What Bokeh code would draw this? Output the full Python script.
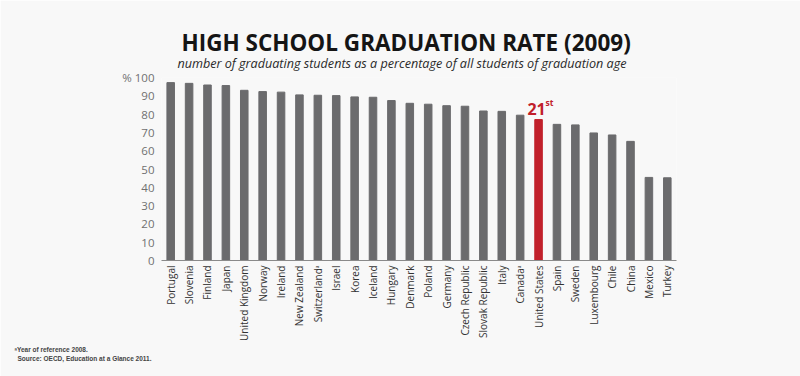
import math
from bokeh.plotting import figure
from bokeh.models import ColumnDataSource, FixedTicker, FactorRange, Title
from bokeh.core.properties import value
from bokeh.embed import file_html
from bokeh.resources import INLINE

countries = ["Portugal", "Slovenia", "Finland", "Japan", "United Kingdom", "Norway",
             "Ireland", "New Zealand", "Switzerland\u1d43", "Israel", "Korea", "Iceland",
             "Hungary", "Denmark", "Poland", "Germany", "Czech Republic", "Slovak Republic",
             "Italy", "Canada\u1d43", "United States", "Spain", "Sweden", "Luxembourg",
             "Chile", "China", "Mexico", "Turkey"]
rates = [97.2, 96.8, 95.9, 95.6, 93.0, 92.3, 92.0, 90.5, 90.3, 90.1, 89.4, 89.2,
         87.4, 85.9, 85.4, 84.6, 84.3, 81.7, 81.5, 79.4, 77.0, 74.4, 74.1, 69.7,
         68.6, 65.1, 45.4, 45.2]
highlight = "United States"
rank_text = "21"
rank_suffix = "st"
y_ticks = [0, 10, 20, 30, 40, 50, 60, 70, 80, 90, 100]

GRAY = "#6b6b6d"
RED = "#c1202b"
colors = [RED if c == highlight else GRAY for c in countries]
src = ColumnDataSource(dict(x=countries, top=rates, color=colors))

p = figure(width=800, height=376, x_range=FactorRange(*countries), y_range=(0, 100),
           output_backend="svg", toolbar_location=None,
           min_border_left=161, min_border_right=124, min_border_top=77,
           min_border_bottom=116)
p.background_fill_color = "#f8f8f8"
p.border_fill_color = "#f8f8f8"
p.outline_line_color = None
p.grid.grid_line_color = None
p.x_range.range_padding = 0

p.vbar(x="x", top="top", width=0.41, color="color", source=src)

hi = countries.index(highlight)
p.text(x=[highlight], y=[rates[hi]], text=[rank_text], text_color=RED,
       text_font=value("Open Sans"), text_font_style="bold", text_font_size="16px",
       text_align="center", text_baseline="alphabetic", x_offset=-2, y_offset=-11)
p.text(x=[highlight], y=[rates[hi]], text=[rank_suffix], text_color=RED,
       text_font=value("Open Sans"), text_font_style="bold", text_font_size="8.5px",
       text_align="left", text_baseline="alphabetic", x_offset=7, y_offset=-17)

xa = p.xaxis[0]
xa.major_label_orientation = math.pi / 2
xa.major_label_text_font = "Open Sans"
xa.major_label_text_font_size = "10px"
xa.major_label_text_color = "#333333"
xa.major_tick_line_color = None
xa.major_tick_out = 0
xa.major_label_standoff = 5
xa.axis_line_color = "#8a8a8a"
xa.minor_tick_line_color = None

ya = p.yaxis[0]
ya.ticker = FixedTicker(ticks=y_ticks)
ya.major_label_overrides = {100: "% 100"}
ya.major_label_text_font = "Open Sans"
ya.major_label_text_font_size = "11.5px"
ya.major_label_text_color = "#707070"
ya.axis_line_color = None
ya.major_tick_line_color = None
ya.minor_tick_line_color = None
ya.major_tick_out = 0
ya.major_label_standoff = 7

p.add_layout(Title(text="number of graduating students as a percentage of all students of graduation age",
                   align="left", offset=16, text_font="Open Sans", text_font_style="italic",
                   text_font_size="12.6px", text_color="#2a2a2a", standoff=12), "above")
p.add_layout(Title(text="HIGH SCHOOL GRADUATION RATE (2009)", align="left", offset=20,
                   text_font="Open Sans", text_font_style="bold", text_font_size="22.5px",
                   text_color="#151515", standoff=-22), "above")

p.add_layout(Title(text="\u1d43Year of reference 2008.", align="left", offset=-147,
                   text_font="Liberation Sans", text_font_size="6.5px",
                   text_color="#444444", standoff=0), "below")
p.add_layout(Title(text="Source: OECD, Education at a Glance 2011.", align="left", offset=-144,
                   text_font="Liberation Sans", text_font_size="6.5px",
                   text_color="#444444", standoff=0), "below")

open("out.html", "w").write(file_html(p, INLINE))
